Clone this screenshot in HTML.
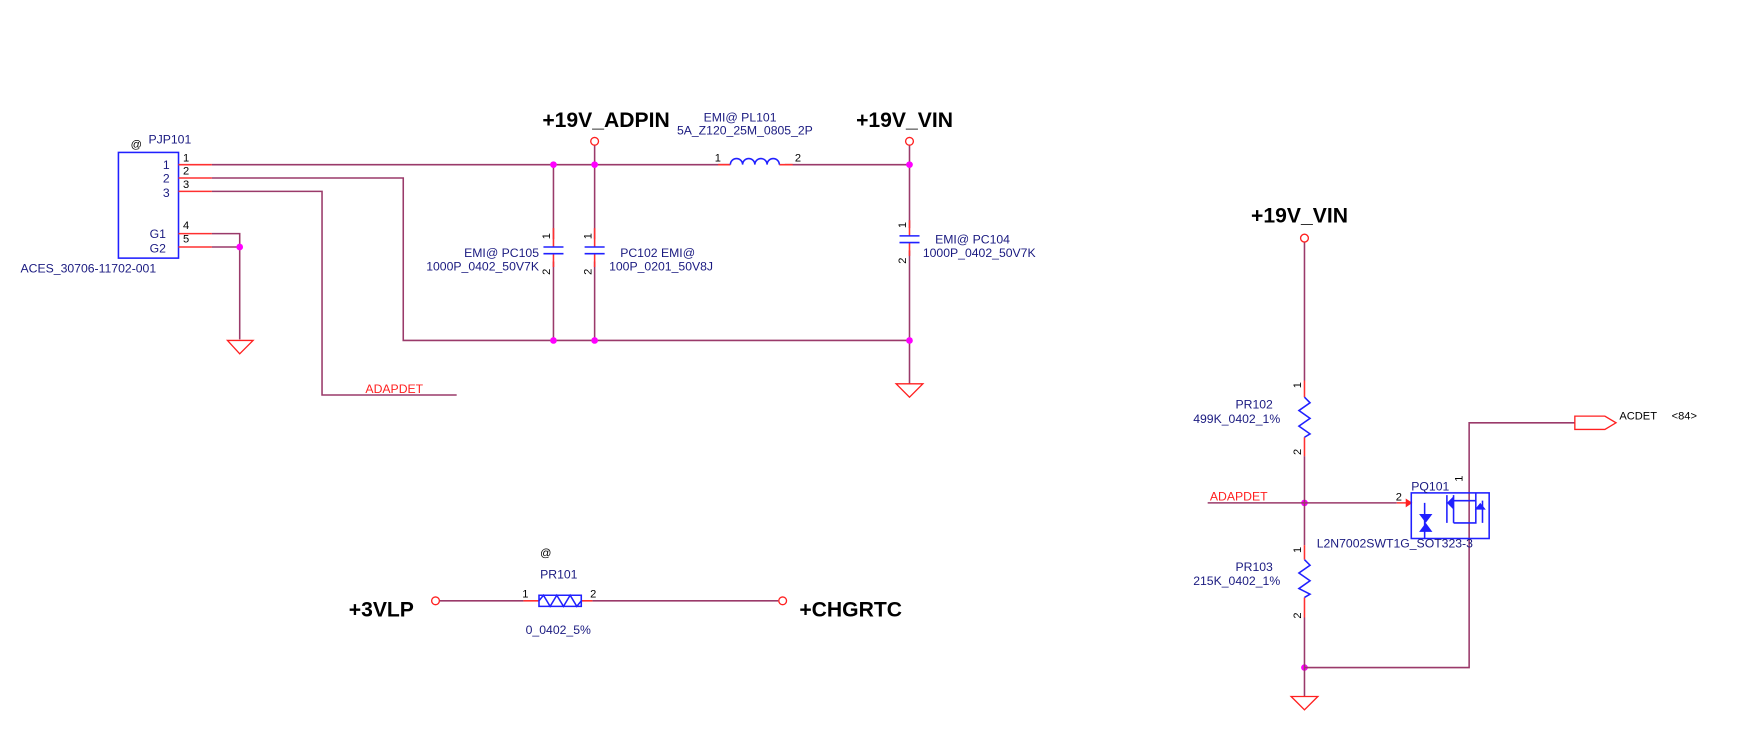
<!DOCTYPE html>
<html><head><meta charset="utf-8"><style>
html,body{margin:0;padding:0;background:#fff;}
svg{display:block;}
text{font-family:"Liberation Sans",sans-serif;}
.b{fill:#1a1a80;font-size:11px;}
.k{fill:#000;font-size:10px;}
.big{fill:#000;font-size:19px;font-weight:bold;}
.r{fill:#ff2020;font-size:11px;}
.w{stroke:#9a3a6a;stroke-width:1.4;fill:none;}
.p{stroke:#ff3030;stroke-width:1.4;fill:none;}
.bl{stroke:#2020ff;stroke-width:1.4;fill:none;}
.d{fill:#ff00ff;}
</style></head><body>
<svg width="1740" height="741" viewBox="0 0 1563 666" xmlns="http://www.w3.org/2000/svg">
<text class="k" x="117" y="133" font-size="11">@</text>
<text class="b" x="133" y="129">PJP101</text>
<rect x="106" y="137" width="54" height="95" class="bl"/>
<text class="b" x="146" y="152">1</text><text class="b" x="146" y="164">2</text><text class="b" x="146" y="177">3</text>
<text class="b" x="134" y="214">G1</text><text class="b" x="134" y="227">G2</text>
<text class="b" x="18" y="245">ACES_30706-11702-001</text>
<path class="p" d="M160 148H190M160 160H190M160 172H190M160 210H190M160 222H190"/>
<text class="k" x="164" y="145">1</text><text class="k" x="164" y="157">2</text><text class="k" x="164" y="169">3</text>
<text class="k" x="164" y="206">4</text><text class="k" x="164" y="218">5</text>
<path class="w" d="M190 148H655M705 148H817M190 160H362V306H817M190 172H289V355H410M190 210H215V305M190 222H215"/>
<text class="r" x="328" y="353">ADAPDET</text>
<path d="M204 306H227L215 318Z" fill="none" stroke="#ff2020" stroke-width="1.2"/>
<path class="w" d="M497 148V215M497 235V306M534 127V215M534 235V306M817 127V205M817 225V306M817 306V345"/>
<path class="p" d="M497 205V222M497 228V240M534 205V222M534 228V240M817 198V212M817 218V230"/>
<path class="bl" d="M488 222H506M488 228H506M525 222H543M525 228H543M808 212H826M808 218H826"/>
<g class="k" font-size="10">
<text transform="translate(494,215) rotate(-90)">1</text><text transform="translate(494,247) rotate(-90)">2</text>
<text transform="translate(531,215) rotate(-90)">1</text><text transform="translate(531,247) rotate(-90)">2</text>
<text transform="translate(814,205) rotate(-90)">1</text><text transform="translate(814,237) rotate(-90)">2</text>
</g>
<text class="b" x="484" y="231" text-anchor="end">EMI@  PC105</text>
<text class="b" x="484" y="243" text-anchor="end">1000P_0402_50V7K</text>
<text class="b" x="557" y="231">PC102 EMI@</text>
<text class="b" x="547" y="243">100P_0201_50V8J</text>
<text class="b" x="840" y="219">EMI@  PC104</text>
<text class="b" x="829" y="231">1000P_0402_50V7K</text>
<path d="M805 345H829L817 357Z" fill="none" stroke="#ff2020" stroke-width="1.2"/>
<text class="big" x="487" y="114">+19V_ADPIN</text>
<circle cx="534" cy="127" r="3.5" fill="#fff" stroke="#ff2020" stroke-width="1.2"/>
<text class="big" x="769" y="114">+19V_VIN</text>
<circle cx="817" cy="127" r="3.5" fill="#fff" stroke="#ff2020" stroke-width="1.2"/>
<text class="b" x="632" y="109">EMI@  PL101</text>
<text class="b" x="608" y="121">5A_Z120_25M_0805_2P</text>
<path class="p" d="M645 148H656M700 148H712"/>
<path class="bl" d="M656 148a5.5 5.5 0 0 1 11 0a5.5 5.5 0 0 1 11 0a5.5 5.5 0 0 1 11 0a5.5 5.5 0 0 1 11 0"/>
<text class="k" x="642" y="145">1</text><text class="k" x="714" y="145">2</text>
<g class="d"><circle cx="215" cy="222" r="3"/><circle cx="497" cy="148" r="3"/><circle cx="534" cy="148" r="3"/><circle cx="817" cy="148" r="3"/><circle cx="497" cy="306" r="3"/><circle cx="534" cy="306" r="3"/><circle cx="817" cy="306" r="3"/><circle cx="1172" cy="452" r="3"/><circle cx="1172" cy="600" r="3"/></g>
<text class="k" x="485" y="500" font-size="11">@</text>
<text class="b" x="485" y="520">PR101</text>
<text class="big" x="313" y="554">+3VLP</text>
<circle cx="391" cy="540" r="3.5" fill="#fff" stroke="#ff2020" stroke-width="1.2"/>
<path class="w" d="M395 540H470M532 540H699"/>
<path class="p" d="M470 540H484M522 540H532"/>
<path class="bl" d="M484 540L488 535L494 545L500 535L506 545L512 535L518 545L522 540M484 540V535H522V545H484Z" stroke-width="1.2"/>
<text class="k" x="469" y="537">1</text><text class="k" x="530" y="537">2</text>
<text class="b" x="472" y="570">0_0402_5%</text>
<circle cx="703" cy="540" r="3.5" fill="#fff" stroke="#ff2020" stroke-width="1.2"/>
<text class="big" x="718" y="554">+CHGRTC</text>
<text class="big" x="1124" y="200">+19V_VIN</text>
<circle cx="1172" cy="214" r="3.5" fill="#fff" stroke="#ff2020" stroke-width="1.2"/>
<path class="w" d="M1172 218V342M1172 410V490M1172 555V626M1085 452H1255M1172 600H1320V380H1415"/>
<path class="p" d="M1172 342V357M1172 393V410M1172 490V503M1172 537V555M1255 452H1264"/>
<path class="bl" d="M1172 357L1177 362L1167 369L1177 376L1167 383L1177 390L1172 393M1172 503L1177 508L1167 515L1177 522L1167 529L1177 534L1172 537"/>
<g class="k" font-size="10">
<text transform="translate(1169,349) rotate(-90)">1</text><text transform="translate(1169,409) rotate(-90)">2</text>
<text transform="translate(1169,497) rotate(-90)">1</text><text transform="translate(1169,556) rotate(-90)">2</text>
</g>
<text class="b" x="1110" y="367">PR102</text>
<text class="b" x="1072" y="380">499K_0402_1%</text>
<text class="b" x="1110" y="513">PR103</text>
<text class="b" x="1072" y="526">215K_0402_1%</text>
<text class="r" x="1087" y="450">ADAPDET</text>
<text class="k" x="1254" y="450">2</text>
<path d="M1263 448L1269 452L1263 456Z" fill="#ff2020"/>
<rect x="1268" y="443" width="70" height="41" class="bl" stroke-width="1.2"/>
<path class="bl" stroke-width="1.2" d="M1280 452V484M1300 445V470M1306 445V470M1306 450H1326V470H1306M1326 443V470M1332 450V470"/>
<path d="M1275 462H1287L1281 470ZM1275 478H1287L1281 470ZM1300 452L1306 446V458ZM1325 458H1335L1330 452Z" fill="#2020ff"/>
<text class="b" x="1268" y="441">PQ101</text>
<text class="b" x="1183" y="492">L2N7002SWT1G_SOT323-3</text>
<text class="k" transform="translate(1314,433) rotate(-90)">1</text>
<path d="M1160 626H1184L1172 638Z" fill="none" stroke="#ff2020" stroke-width="1.2"/>
<path d="M1415 374H1442L1452 380L1442 386H1415Z" fill="none" stroke="#ff2020" stroke-width="1.2"/>
<text class="k" x="1455" y="377" font-size="11">ACDET</text>
<text class="k" x="1502" y="377">&lt;84&gt;</text>
</svg>
</body></html>
